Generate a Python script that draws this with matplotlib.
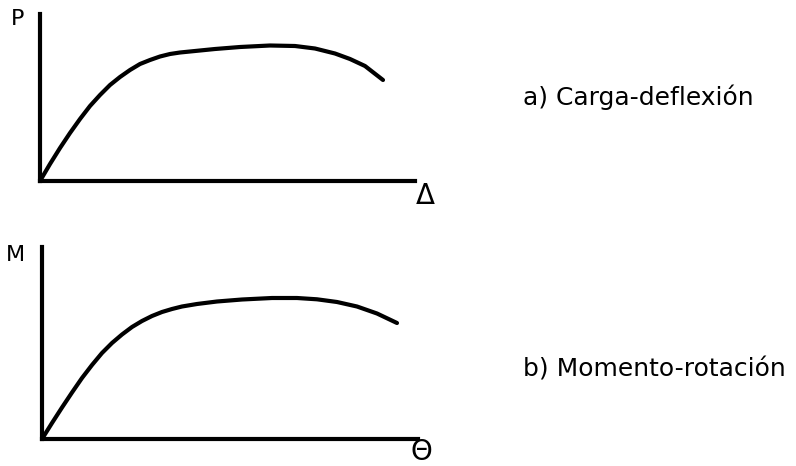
import matplotlib.pyplot as plt

# Curva carga-deflexion (unidades arbitrarias)
delta = [0, 10, 20, 30, 40, 50, 60, 70, 80, 90, 100, 110, 120, 130, 140,
         155, 175, 200, 230, 255, 275, 295, 310, 325, 343]
carga = [0, 17, 33, 48, 62, 75, 86, 96, 104, 111, 117, 121, 124.5, 127,
         128.5, 130, 132, 134, 135.5, 135, 132.5, 127.5, 122, 115, 101]

# Curva momento-rotacion
theta = [0, 10, 20, 30, 40, 50, 60, 70, 80, 90, 100, 110, 120, 130, 140,
         155, 175, 200, 230, 255, 275, 295, 315, 335, 355]
momento = [0, 16, 31.5, 46.5, 61, 74, 86, 96, 104.5, 112, 118, 123, 127,
           130, 132.5, 135, 137.5, 139.5, 141, 141, 139.7, 137, 132.5,
           125.5, 116]

W, H = 796, 466
fig = plt.figure(figsize=(W / 100, H / 100), dpi=100)
fig.patch.set_facecolor('white')


def panel(rect_px, x, y, ylabel, ylab_pos, xlabel, xlab_pos, titulo, tpos):
    x0, y0, x1, y1 = rect_px
    ax = fig.add_axes([x0 / W, 1 - y1 / H, (x1 - x0) / W, (y1 - y0) / H])
    ax.plot(x, y, color='black', lw=3, solid_capstyle='round',
            solid_joinstyle='round')
    ax.set_xlim(0, x1 - x0)
    ax.set_ylim(0, y1 - y0)
    for s in ['top', 'right']:
        ax.spines[s].set_visible(False)
    for s in ['left', 'bottom']:
        ax.spines[s].set_linewidth(3)
        ax.spines[s].set_color('black')
    ax.set_xticks([])
    ax.set_yticks([])
    ax.patch.set_alpha(0)
    fig.text(ylab_pos[0] / W, 1 - ylab_pos[1] / H, ylabel, fontsize=16,
             ha='center', va='center')
    fig.text(xlab_pos[0] / W, 1 - xlab_pos[1] / H, xlabel, fontsize=20,
             ha='center', va='center')
    fig.text(tpos[0] / W, 1 - tpos[1] / H, titulo, fontsize=18,
             ha='left', va='center')
    return ax


ax1 = panel((40, 14, 415, 181), delta, carga, 'P', (18, 19),
            'Δ', (425, 196), 'a) Carga-deflexión', (523, 97))
ax2 = panel((42, 247, 418, 439), theta, momento, 'M', (15, 255),
            'Θ', (421, 452), 'b) Momento-rotación', (523, 370))

fig.savefig('out.png', dpi=100)
